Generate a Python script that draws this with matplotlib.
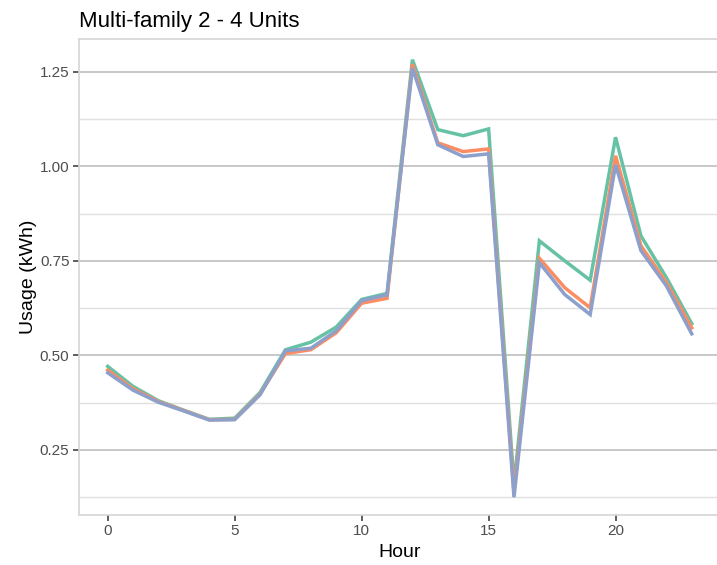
import numpy as np
import matplotlib
matplotlib.use('Agg')
import matplotlib.pyplot as plt
from matplotlib.ticker import MultipleLocator

plt.rcParams['font.family'] = ['Liberation Sans', 'DejaVu Sans']

# hourly usage, three groups
hours = list(range(24))
usage_green = [0.471, 0.418, 0.380, 0.355, 0.331, 0.334, 0.402, 0.515, 0.535, 0.575,
               0.648, 0.664, 1.282, 1.097, 1.081, 1.099, 0.160, 0.803, 0.750, 0.699,
               1.077, 0.816, 0.706, 0.584]
usage_orange = [0.461, 0.412, 0.378, 0.354, 0.330, 0.331, 0.398, 0.505, 0.515, 0.560,
                0.638, 0.651, 1.270, 1.062, 1.039, 1.046, 0.140, 0.757, 0.679, 0.626,
                1.028, 0.790, 0.693, 0.573]
usage_blue = [0.454, 0.408, 0.376, 0.353, 0.329, 0.330, 0.396, 0.512, 0.519, 0.565,
              0.645, 0.660, 1.260, 1.057, 1.026, 1.033, 0.125, 0.745, 0.661, 0.608,
              1.004, 0.777, 0.684, 0.557]

fig = plt.figure(figsize=(7.17, 5.65), dpi=100)
ax = fig.add_axes([0.1095, 0.0885, 0.896, 0.842])

ax.plot(hours, usage_green, color='#66C2A5', lw=2.5, solid_joinstyle='miter')
ax.plot(hours, usage_orange, color='#FC8D62', lw=2.5, solid_joinstyle='miter')
ax.plot(hours, usage_blue, color='#8DA0CB', lw=2.5, solid_joinstyle='miter')

ax.set_xlim(-1.15, 24.15)
ax.set_ylim(0.078, 1.336)
ax.xaxis.set_major_locator(MultipleLocator(5))
ax.yaxis.set_major_locator(MultipleLocator(0.25))
ax.yaxis.set_minor_locator(MultipleLocator(0.125))
ax.yaxis.set_major_formatter(plt.FuncFormatter(lambda v, p: f'{v:.2f}'))

ax.grid(axis='y', which='major', color='#C4C4C4', lw=1.3)
ax.grid(axis='y', which='minor', color='#E0E0E0', lw=1.0)
ax.set_axisbelow(True)

for s in ax.spines.values():
    s.set_color('#D6D6D6')
    s.set_linewidth(1.2)

ax.tick_params(axis='both', which='major', length=4, width=1.1, color='#333333',
               labelcolor='#4D4D4D', labelsize=11, pad=2.5)
ax.tick_params(axis='y', which='minor', length=0)

ax.set_xlabel('Hour', fontsize=14, labelpad=4)
ax.set_ylabel('Usage (kWh)', fontsize=14, labelpad=2)
ax.set_title('Multi-family 2 - 4 Units', loc='left', fontsize=16, pad=9)

fig.savefig('out.png', dpi=100)
